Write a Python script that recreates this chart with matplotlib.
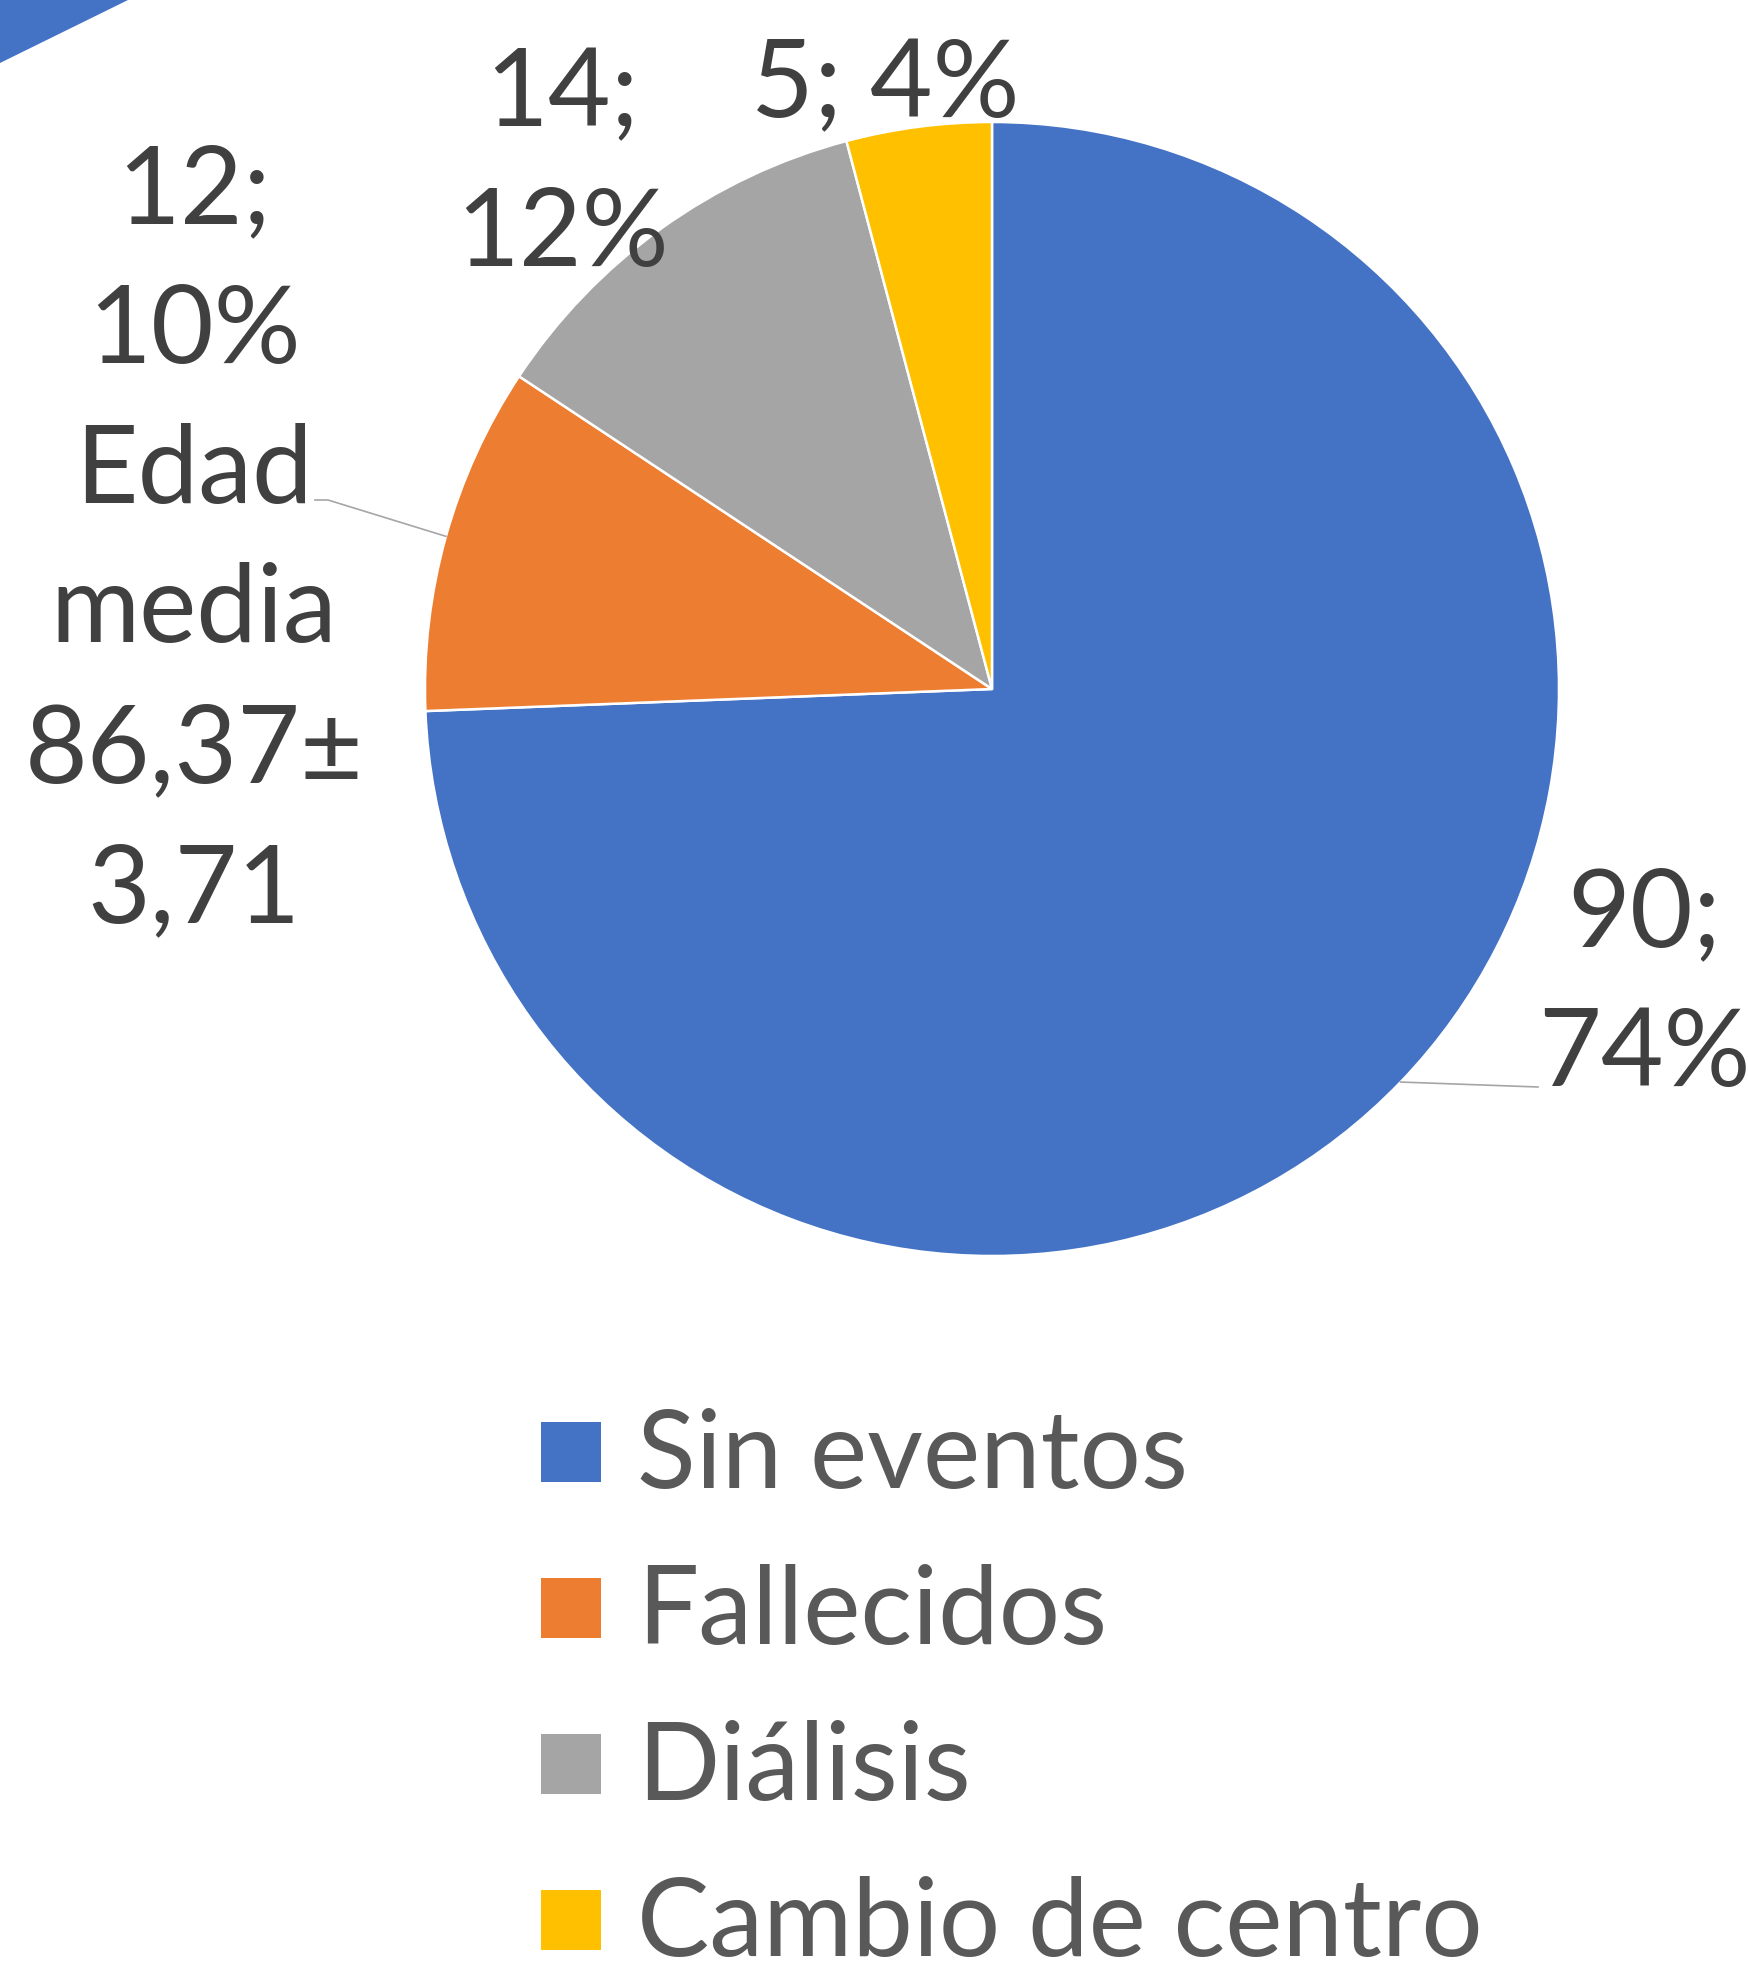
import numpy as np
import matplotlib.pyplot as plt
from matplotlib.patches import Rectangle, Polygon

categories = ['Sin eventos', 'Fallecidos', 'Diálisis', 'Cambio de centro']
values = [90, 12, 14, 5]
colors = ['#4472C4', '#ED7D31', '#A5A5A5', '#FFC000']
labels = ['90;\n74%', '12;\n10%\nEdad\nmedia\n86,37±\n3,71', '14;\n12%', '5; 4%']

W, H = 1749, 1967
plt.rcParams['font.family'] = ['Lato', 'DejaVu Sans']

fig = plt.figure(figsize=(W / 100, H / 100), dpi=100)
ax = fig.add_axes([0, 0, 1, 1])

cx, cy, r = 992, 1278, 567
wedges, _ = ax.pie(values, colors=colors, startangle=90, counterclock=False,
                   center=(cx, cy), radius=r,
                   wedgeprops=dict(edgecolor='white', linewidth=1.8))
ax.set_xlim(0, W)
ax.set_ylim(0, H)
ax.set_aspect('auto')
ax.axis('off')

# decoration in the corner of the slide
ax.add_patch(Polygon([(0, H), (128, H), (0, H - 63)], closed=True,
                     color='#4472C4', lw=0))

fs = 78
tc = '#404040'
# label positions (x, y centre of the text block)
label_pos = [(1644, 981), (194, 1425), (562, 1801), (885, 1880)]
for w, lab, (lx, ly) in zip(wedges, labels, label_pos):
    ax.text(lx, ly, lab, ha='center', va='center', fontsize=fs, color=tc,
            linespacing=1.51)

# leader lines for the two labels that sit away from their slices
def edge_point(w):
    a = np.deg2rad((w.theta1 + w.theta2) / 2)
    return cx + r * np.cos(a), cy + r * np.sin(a)

x0, y0 = edge_point(wedges[0])
ax.plot([x0, 1538], [y0, 880], color='#A6A6A6', lw=1.2)
x1, y1 = edge_point(wedges[1])
ax.plot([x1, 328, 315], [y1, 1467, 1467], color='#A6A6A6', lw=1.2)

# legend
row0, step = H - 1452, 156
for i, (cat, c) in enumerate(zip(categories, colors)):
    yc = row0 - i * step
    ax.add_patch(Rectangle((541, yc - 30), 60, 60, color=c, lw=0))
    ax.text(637, yc - 36, cat, ha='left', va='baseline', fontsize=fs,
            color='#595959')

fig.savefig('out.png', dpi=100)
